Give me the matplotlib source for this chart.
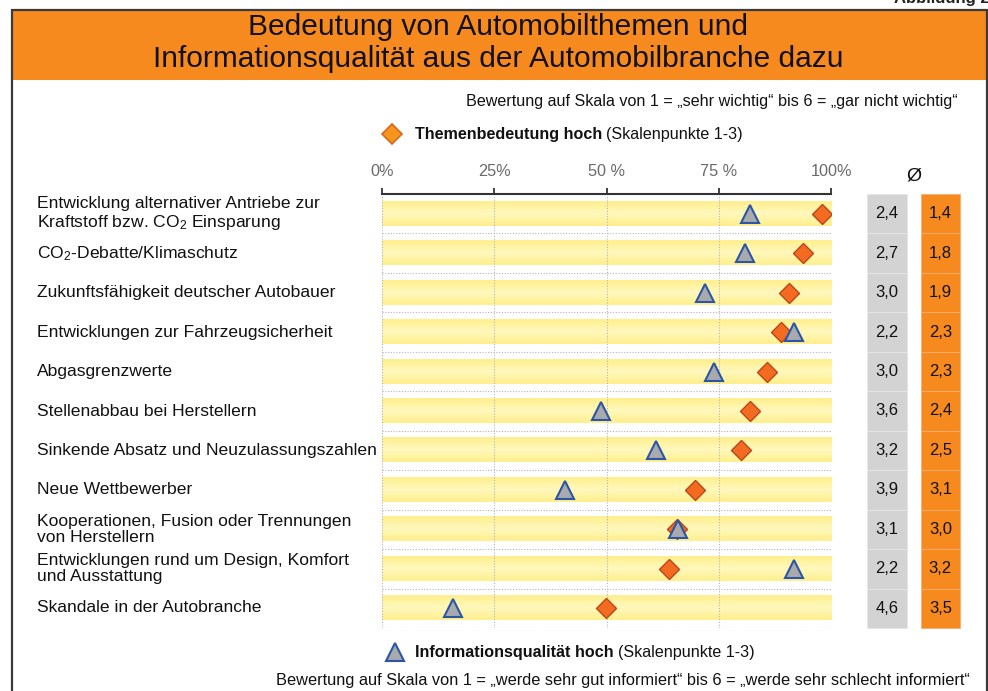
import numpy as np
import matplotlib
matplotlib.use("Agg")
import matplotlib.pyplot as plt
from matplotlib.patches import Rectangle
from matplotlib.colors import LinearSegmentedColormap

plt.rcParams['font.family'] = ['Liberation Sans', 'DejaVu Sans']
plt.rcParams['mathtext.fontset'] = 'custom'
plt.rcParams['mathtext.rm'] = 'Liberation Sans'
plt.rcParams['mathtext.it'] = 'Liberation Sans'

# data
themen = ["Entwicklung alternativer Antriebe zur\nKraftstoff bzw. CO$_2$ Einsparung",
          "CO$_2$-Debatte/Klimaschutz",
          "Zukunftsfähigkeit deutscher Autobauer",
          "Entwicklungen zur Fahrzeugsicherheit",
          "Abgasgrenzwerte",
          "Stellenabbau bei Herstellern",
          "Sinkende Absatz und Neuzulassungszahlen",
          "Neue Wettbewerber",
          "Kooperationen, Fusion oder Trennungen\nvon Herstellern",
          "Entwicklungen rund um Design, Komfort\nund Ausstattung",
          "Skandale in der Autobranche"]
bedeutung = [97.9, 93.8, 90.7, 88.9, 85.8, 82.0, 80.0, 69.8, 65.8, 64.0, 49.9]
info_quali = [82.0, 80.8, 71.9, 91.8, 73.9, 48.7, 61.0, 40.8, 65.9, 91.8, 15.9]
mw_info = ["2,4", "2,7", "3,0", "2,2", "3,0", "3,6", "3,2", "3,9", "3,1", "2,2", "4,6"]
mw_bedeutung = ["1,4", "1,8", "1,9", "2,3", "2,3", "2,4", "2,5", "3,1", "3,0", "3,2", "3,5"]
xticks = [0, 25, 50, 75, 100]
xticklabels = ["0%", "25%", "50 %", "75 %", "100%"]

W, H = 988, 691
fig = plt.figure(figsize=(W / 100, H / 100), dpi=100)
fig.patch.set_facecolor('white')

# overlay for frame / header / texts (pixel coords)
deco = fig.add_axes([0, 0, 1, 1])
deco.set_xlim(0, W)
deco.set_ylim(H, 0)
deco.axis('off')

orange = '#F68A1F'
deco.add_patch(Rectangle((12, 10), 975, 70, facecolor=orange, edgecolor='none'))
deco.plot([12, 12, 987, 987], [H + 5, 10, 10, H + 5], color='#3a3a3a', lw=1.6,
          solid_joinstyle='miter')

deco.text(498, 43, "Bedeutung von Automobilthemen und\nInformationsqualität aus der Automobilbranche dazu",
          ha='center', va='center', fontsize=21.5, linespacing=1.2, color='#111111')
deco.text(958, 101, "Bewertung auf Skala von 1 = „sehr wichtig“ bis 6 = „gar nicht wichtig“",
          ha='right', va='center', fontsize=11.6, color='#111111')
deco.text(990, 3, "Abbildung 2", ha='right', va='baseline', fontsize=12,
          fontweight='bold', color='#222222')
deco.text(970, 681, "Bewertung auf Skala von 1 = „werde sehr gut informiert“ bis 6 = „werde sehr schlecht informiert“",
          ha='right', va='center', fontsize=11.8, color='#111111')

# legends
deco.plot([392], [134], marker='D', ms=10, mfc='#F7941D', mec='#D2691E', mew=1.2, ls='none')
deco.plot([395], [652], marker='^', ms=13.5, mfc='#A8AAAD', mec='#2B56A8', mew=1.5, ls='none')

fig.canvas.draw()
renderer = fig.canvas.get_renderer()


def two_part(x, y, bold, rest):
    t = deco.text(x, y, bold, ha='left', va='center', fontsize=11.6, fontweight='bold', color='#111111')
    bb = t.get_window_extent(renderer=renderer)
    deco.text(bb.x1 + 4, y, rest, ha='left', va='center', fontsize=11.6, color='#111111')


two_part(415, 134, "Themenbedeutung hoch", "(Skalenpunkte 1-3)")
two_part(415, 653, "Informationsqualität hoch", "(Skalenpunkte 1-3)")

# row labels
for i, lab in enumerate(themen):
    y = 214 + i * 39.4
    deco.text(37, y, lab, ha='left', va='center', fontsize=12.6, linespacing=1.1, color='#111111')

deco.text(914, 176, "Ø", ha='center', va='center', fontsize=14, color='#111111')

# main chart axes
x0, x1 = 382, 831
y_top, y_bot = 194, 628
ax = fig.add_axes([x0 / W, 1 - y_bot / H, (x1 - x0) / W, (y_bot - y_top) / H])
ax.set_zorder(2)
ax.patch.set_alpha(0)
n = len(themen)
rows = np.arange(n)

# yellow bands with vertical gradient
grad = np.abs(np.linspace(-1, 1, 64))[:, None]
cmap = LinearSegmentedColormap.from_list('band', ['#FFF8BE', '#FFEF8C'])
band_h = 0.61
for r in rows:
    ax.imshow(grad, cmap=cmap, aspect='auto', extent=[0, 100, r + band_h / 2, r - band_h / 2],
              zorder=1, vmin=0, vmax=1)
ax.set_xlim(0, 100)
ax.set_ylim(n - 0.5, -0.5)

# dotted grid
for xv in xticks:
    ax.axvline(xv, color='#b5b5b5', lw=0.8, ls=(0, (1, 1.5)), zorder=2)
for r in rows:
    ax.axhline(r + 0.5, color='#b5b5b5', lw=0.8, ls=(0, (1, 1.5)), zorder=2)

ax.plot(bedeutung, rows, ls='none', marker='D', ms=10, mfc='#F26B21', mec='#B9461A', mew=1.0, zorder=4)
ax.plot(info_quali, rows, ls='none', marker='^', ms=13.5, mfc='#A8AAAD', mec='#2B56A8', mew=1.5, zorder=5)

# mean value columns
ax.barh(rows, 8.9, left=108.0, height=1.0, color='#D3D3D3', edgecolor='#e6e6e6', lw=0.6, clip_on=False)
ax.barh(rows, 8.7, left=120.0, height=1.0, color='#F68A1F', edgecolor='#f8b070', lw=0.6, clip_on=False)
for r in rows:
    ax.text(112.45, r, mw_info[r], ha='center', va='center', fontsize=12, color='#111111')
    ax.text(124.35, r, mw_bedeutung[r], ha='center', va='center', fontsize=12, color='#111111')

# axis styling
for s in ['left', 'right', 'bottom']:
    ax.spines[s].set_visible(False)
ax.spines['top'].set_color('#333333')
ax.spines['top'].set_linewidth(1.5)
ax.xaxis.tick_top()
ax.set_xticks(xticks)
ax.set_xticklabels(xticklabels)
ax.tick_params(axis='x', direction='out', length=4, width=1.3, color='#333333',
               labelsize=11.7, labelcolor='#6a6a6a', pad=7)
ax.set_yticks([])

fig.savefig('out.png', dpi=100)
